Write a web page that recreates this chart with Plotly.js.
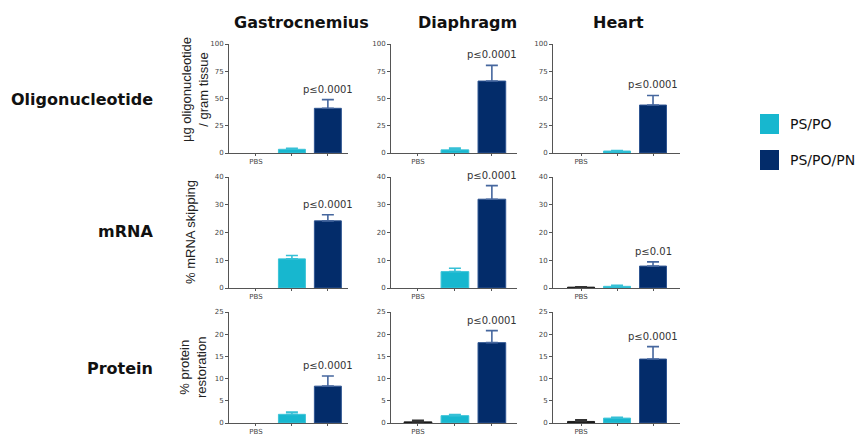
<!DOCTYPE html>
<html>
<head>
<meta charset="utf-8">
<script src="https://cdn.plot.ly/plotly-3.0.1.min.js"></script>
<style>html,body{margin:0;padding:0;background:#fff;}#chart{width:867px;height:436px;}</style>
</head>
<body>
<div id="chart"></div>
<script>
// ---- data ----
const categories = ['PBS', 'PS/PO', 'PS/PO/PN'];
const tissues = ['Gastrocnemius', 'Diaphragm', 'Heart'];
const measures = ['Oligonucleotide', 'mRNA', 'Protein'];
const yTitles = ['µg oligonucleotide<br>/ gram tissue', '% mRNA skipping', '% protein<br>restoration'];
const yMax = [100, 40, 25];
const yDtick = [25, 10, 5];

// values per tissue (Gastrocnemius, Diaphragm, Heart)
const oligoPBS = [0, 0, 0];
const oligoPBSerr = [0, 0, 0];
const oligoPSPO = [3.4, 2.9, 1.8];
const oligoPSPOerr = [0.9, 1.6, 0.5];
const oligoPN = [41, 66, 44];
const oligoPNerr = [8, 14.4, 8.8];
const oligoP = ['p≤0.0001', 'p≤0.0001', 'p≤0.0001'];

const mrnaPBS = [0, 0, 0.3];
const mrnaPBSerr = [0, 0, 0.1];
const mrnaPSPO = [10.5, 5.9, 0.6];
const mrnaPSPOerr = [1.2, 1.2, 0.4];
const mrnaPN = [24.2, 32, 7.9];
const mrnaPNerr = [2.2, 4.9, 1.5];
const mrnaP = ['p≤0.0001', 'p≤0.0001', 'p≤0.01'];

const protPBS = [0, 0.25, 0.35];
const protPBSerr = [0, 0.35, 0.35];
const protPSPO = [1.95, 1.65, 1.1];
const protPSPOerr = [0.5, 0.25, 0.2];
const protPN = [8.3, 18.1, 14.4];
const protPNerr = [2.3, 2.7, 2.8];
const protP = ['p≤0.0001', 'p≤0.0001', 'p≤0.0001'];

const rowsPBS = [oligoPBS, mrnaPBS, protPBS];
const rowsPBSerr = [oligoPBSerr, mrnaPBSerr, protPBSerr];
const rowsPSPO = [oligoPSPO, mrnaPSPO, protPSPO];
const rowsPSPOerr = [oligoPSPOerr, mrnaPSPOerr, protPSPOerr];
const rowsPN = [oligoPN, mrnaPN, protPN];
const rowsPNerr = [oligoPNerr, mrnaPNerr, protPNerr];
const rowsP = [oligoP, mrnaP, protP];

// ---- styling / layout ----
const W = 867, H = 436;
const colPx = [[229, 348], [391, 517], [553, 680]];
const colRange = [[-0.75, 2.56], [-0.73, 2.68], [-0.78, 2.75]];
const rowPx = [[44, 153], [177, 288], [312, 423]];
const barColors = ['#1a1a1a', '#17b7cf', '#032c6a'];
const lineColors = ['#1a1a1a', '#3cc4d8', '#2f5592'];
const errColors = ['#333333', '#36c0d6', '#46679e'];

const traces = [];
const layout = {
  width: W, height: H,
  margin: {l: 0, r: 0, t: 0, b: 0},
  paper_bgcolor: '#ffffff', plot_bgcolor: '#ffffff',
  showlegend: false,
  barmode: 'overlay',
  font: {family: 'DejaVu Sans, Verdana, sans-serif', color: '#222'},
  annotations: [], shapes: []
};

for (let r = 0; r < 3; r++) {
  for (let c = 0; c < 3; c++) {
    const idx = r * 3 + c + 1;
    const xa = 'x' + (idx > 1 ? idx : '');
    const ya = 'y' + (idx > 1 ? idx : '');
    const vals = [rowsPBS[r][c], rowsPSPO[r][c], rowsPN[r][c]];
    const errs = [rowsPBSerr[r][c], rowsPSPOerr[r][c], rowsPNerr[r][c]];
    for (let g = 0; g < 3; g++) {
      traces.push({
        type: 'bar', x: [g], y: [vals[g]], xaxis: xa, yaxis: ya,
        name: categories[g], width: 0.75,
        marker: {color: barColors[g], line: {color: lineColors[g], width: vals[g] > 0 ? 1 : 0}},
        error_y: {type: 'data', symmetric: false, array: [errs[g]], arrayminus: [0],
                  visible: errs[g] > 0, color: errColors[g], thickness: 1.6, width: 6},
        hoverinfo: 'skip'
      });
    }
    layout['xaxis' + (idx > 1 ? idx : '')] = {
      domain: [colPx[c][0] / W, colPx[c][1] / W],
      anchor: ya, range: colRange[c],
      showgrid: false, zeroline: false, showline: true, linecolor: '#555', linewidth: 1,
      ticks: 'outside', ticklen: 2, tickcolor: '#555',
      tickvals: [0, 1, 2], ticktext: ['PBS', '', ''],
      tickfont: {size: 7, color: '#444'}, fixedrange: true
    };
    layout['yaxis' + (idx > 1 ? idx : '')] = {
      domain: [1 - rowPx[r][1] / H, 1 - rowPx[r][0] / H],
      anchor: xa, range: [0, yMax[r]], dtick: yDtick[r], tick0: 0,
      showgrid: false, zeroline: false, showline: true, linecolor: '#555', linewidth: 1,
      ticks: 'outside', ticklen: 3, tickcolor: '#555',
      tickfont: {size: 7, color: '#444'}, fixedrange: true
    };
    // p-value label above the PS/PO/PN bar
    layout.annotations.push({
      xref: xa, yref: ya, x: 2, y: rowsPN[r][c] + rowsPNerr[r][c],
      yanchor: 'bottom', xanchor: 'center', yshift: 3, showarrow: false,
      text: rowsP[r][c], font: {size: 10, color: '#333', family: 'DejaVu Sans, sans-serif'}
    });
  }
}

// column titles
const colTitleX = [301, 467, 618];
tissues.forEach((t, i) => layout.annotations.push({
  xref: 'paper', yref: 'paper', x: colTitleX[i] / W, y: 1 - 22 / H,
  xanchor: 'center', yanchor: 'middle', showarrow: false,
  text: '<b>' + t + '</b>', font: {size: 16, color: '#111', family: 'DejaVu Sans, sans-serif'}
}));
// row labels
const rowLabelY = [100, 231, 368];
measures.forEach((m, i) => layout.annotations.push({
  xref: 'paper', yref: 'paper', x: 155 / W, y: 1 - rowLabelY[i] / H,
  xanchor: 'right', yanchor: 'middle', showarrow: false,
  text: '<b>' + m + '</b>', font: {size: 16, color: '#111', family: 'DejaVu Sans, sans-serif'}
}));
// y-axis titles (first column)
const yTitleX = [195, 190, 193];
const yTitleY = [90, 232, 368];
yTitles.forEach((t, i) => layout.annotations.push({
  xref: 'paper', yref: 'paper', x: yTitleX[i] / W, y: 1 - yTitleY[i] / H,
  xanchor: 'center', yanchor: 'middle', showarrow: false, textangle: -90,
  text: t, font: {size: 13, color: '#222', family: 'Liberation Sans, Arial, sans-serif'}
}));
// legend
const legY = [124, 160];
[1, 2].forEach((g, i) => {
  layout.shapes.push({
    type: 'rect', xref: 'paper', yref: 'paper',
    x0: 760 / W, x1: 779 / W, y0: 1 - (legY[i] + 10) / H, y1: 1 - (legY[i] - 10) / H,
    fillcolor: barColors[g], line: {width: 0}
  });
  layout.annotations.push({
    xref: 'paper', yref: 'paper', x: 788 / W, y: 1 - legY[i] / H,
    xanchor: 'left', yanchor: 'middle', showarrow: false,
    text: categories[g], font: {size: 14, color: '#111', family: 'DejaVu Sans, sans-serif'}
  });
});

Plotly.newPlot('chart', traces, layout, {staticPlot: true, displayModeBar: false});
</script>
</body>
</html>
